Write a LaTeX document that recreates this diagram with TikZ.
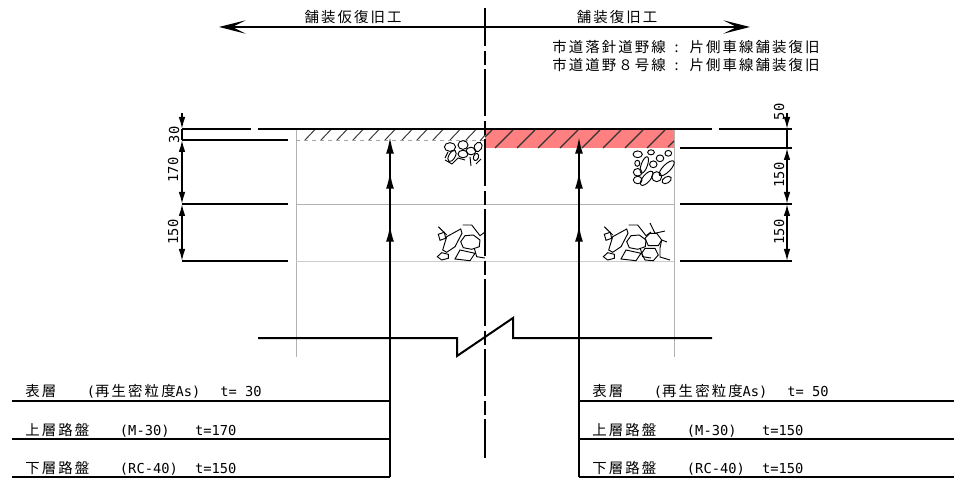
\documentclass[tikz,border=0pt]{standalone}
\usepackage{fontspec}
\usetikzlibrary{arrows.meta}
\newfontfamily\jpfont[LetterSpace=14.6]{Noto Sans CJK JP}
\newfontfamily\latfont{DejaVu Sans Mono}
\newcommand{\jp}{\jpfont\fontsize{10.8pt}{12pt}\selectfont}
\newcommand{\lat}{\latfont\fontsize{10.3pt}{12pt}\selectfont}
\tikzset{
  sectline/.style={line width=1.5pt},
  grayline/.style={gray!60, line width=0.7pt},
  hatchline/.style={black!80, line width=0.7pt},
  stone/.style={line width=0.7pt},
  centerline/.style={line width=1.4pt, dash pattern=on 35.25pt off 3.4pt on 10.5pt off 3.35pt, dash phase=6.75pt},
  leader/.style={line width=1.5pt, -{Latex[length=12.5pt,width=6pt]}},
  dimarrow/.style={line width=1.2pt, -{Latex[length=9pt,width=5pt]}},
  dimboth/.style={line width=1.2pt, {Latex[length=9pt,width=5pt]}-{Latex[length=9pt,width=5pt]}},
  rowtext/.style={anchor=base west, inner sep=0pt, font=\jp},
  dimtext/.style={rotate=90, inner sep=0pt, font=\lat},
}
% big stones of the lower course
\newcommand{\lowerstones}{
  \draw[stone] (442.7,250) -- (446.7,236.7) -- (460.7,229) -- (462,233.3) -- (455,246.7) -- (446.7,252.3) -- cycle;
  \draw[stone] (438.3,234.3) -- (444.3,232.3) -- (445.7,238.3) -- (440,240.3) -- cycle;
  \draw[stone] (438.3,226.7) -- (446.7,235);
  \draw[stone] (437.3,256.7) -- (441.7,252.7) -- (448.3,254.3) -- (448.3,258.3) -- (441.7,260) -- cycle;
  \draw[stone] (460.7,241.7) -- (465,235.7) -- (473.3,235) -- (480,240) -- (479.3,246.7) -- (471.7,249.3) -- (463.3,247.7) -- cycle;
  \draw[stone] (455,259) -- (460,250) -- (475,253.3) -- (470,260.7) -- cycle;
  \draw[stone] (462.7,225) -- (471.7,225) -- (480,235.7) -- (485,232);
  \draw[stone] (474.3,248.3) -- (476.7,256.7) -- (485,258);
}
\begin{document}
\begin{tikzpicture}[x=0.75pt, y=-0.75pt]
  \useasboundingbox (0,0) rectangle (954,481);

  % pavement layers
  \fill[red!50!white] (485,130) rectangle (674,148);
  \draw[grayline] (296,129) -- (296,357);
  \draw[grayline] (674,129) -- (674,357);
  \draw[grayline] (296,204.5) -- (674,204.5);
  \draw[gray!40, line width=1pt] (296,261.5) -- (674,261.5);
  \draw[gray!70, line width=0.6pt, dashed] (296,140.5) -- (485,140.5);

  % hatching
  \foreach \hx in {305,321,337,353,369,385,402,417,433,450,466}
    \draw[hatchline] (\hx,140) -- (\hx+10,129.5);
  \draw[hatchline] (480,141) -- (485,135);
  \foreach \hx in {495,517,538,560,582,603,625,647}
    \draw[black!80, line width=0.9pt] (\hx,148) -- (\hx+18,130);
  \draw[black!80, line width=0.9pt] (485,137) -- (492,130);
  \draw[black!80, line width=0.9pt] (668,147) -- (674,141);

  % stones
  \foreach \sx/\sy/\ra/\rb/\ang in {450/147/4.5/3.5/0, 463/145/4/3.5/0, 471/151/4/3/0, 463/154/4/3/0, 452/156/5/2.5/60, 478/147/4/3/60, 476/157/3/2/70}
    \draw[stone, rotate around={\ang:(\sx,\sy)}] (\sx,\sy) ellipse ({1.25*\ra} and {1.25*\rb});
  \draw[stone] (445,160) -- (452,164) -- (458,158) -- (465,160);
  \draw[stone] (448,152) -- (445,158);
  \draw[stone] (470,157) -- (471,166);
  \draw[stone] (481,159) -- (476,164);
  \foreach \sx/\sy/\ra/\rb/\ang in {637.7/154.3/3.7/2.7/0, 651/152.3/2.7/2/0, 660/158.3/3/2.7/0, 668.3/153.3/2.7/2.3/0, 644.3/165/7/2.5/70, 637.3/163.3/2/2.4/0, 653.3/164.3/3/2.7/0, 666.7/168.3/8/3/45, 637.7/172.3/3.5/3/0, 637.7/180/3.5/3/0, 646.7/178.3/7/3/50, 656.7/176.7/4/4/0, 666.7/180/4/2.5/30}
    \draw[stone, rotate around={\ang:(\sx,\sy)}] (\sx,\sy) ellipse ({1.25*\ra} and {1.25*\rb});
  \begin{scope}
    \clip (430,215) rectangle (485,270);
    \lowerstones
  \end{scope}
  \begin{scope}[xshift=124.5pt]
    \lowerstones
  \end{scope}
  \draw[stone] (641.7,253.3) -- (645,248.3) -- (655,248.3) -- (658.3,255) -- (653.3,260.7) -- (645,260) -- cycle;
  \draw[stone] (645,238.3) -- (650,233.3) -- (656.7,233.3) -- (661.7,240) -- (658.3,245.7) -- (648.3,245.7) -- cycle;
  \draw[stone] (650,223) -- (655,233.3) -- (665,231);
  \draw[stone] (661.7,240) -- (660,248) -- (660,257) -- (670,260);
  \draw[stone] (661.7,240) -- (667,242);

  % section lines
  \coordinate (topL) at (182,129);
  \coordinate (breakL) at (251,129);
  \coordinate (breakLb) at (258,129);
  \coordinate (breakR) at (712,129);
  \coordinate (breakRb) at (719,129);
  \coordinate (topR) at (792,129);
  \draw[sectline] (topL) -- (breakL);
  \draw[sectline] (breakLb) -- (breakR);
  \draw[sectline] (breakRb) -- (topR);
  \draw[sectline] (182,140) -- (288,140);
  \draw[sectline] (182,204) -- (288,204);
  \draw[sectline] (182,261) -- (288,261);
  \draw[sectline] (680,148) -- (792,148);
  \draw[sectline] (680,204) -- (792,204);
  \draw[sectline] (680,261) -- (792,261);

  % break line
  \draw[sectline, line join=miter] (258,338) -- (457,338) -- (457,356) -- (513,318) -- (513,338) -- (712,338);

  % center line
  \draw[centerline] (485,8) -- (485,458);

  % top arrow
  \coordinate (arrL) at (219,27);
  \coordinate (arrR) at (750,27);
  \draw[line width=1.3pt, {Stealth[length=20pt,width=10pt,inset=10pt]}-{Stealth[length=20pt,width=10pt,inset=10pt]}] (arrL) -- (arrR);
  \node[inner sep=0pt, font=\jp] (tempWork) at (353,17) {舗装仮復旧工};
  \node[inner sep=0pt, font=\jp] (fullWork) at (617,17) {舗装復旧工};
  \node[rowtext] (roadA) at (552,53) {市道落針道野線\hspace{2.8pt} : \hspace{2.8pt}片側車線舗装復旧};
  \node[rowtext] (roadB) at (552,70.5) {市道道野８号線\hspace{2.8pt} : \hspace{2.8pt}片側車線舗装復旧};

  % dimensions, left
  \coordinate (dimLa) at (182,113);
  \coordinate (dimLb) at (182,129);
  \coordinate (dimLc) at (182,140);
  \coordinate (dimLd) at (182,204);
  \coordinate (dimLe) at (182,261);
  \draw[dimarrow] (dimLa) -- (dimLb);
  \draw[line width=1.2pt] (dimLb) -- (dimLc);
  \draw[dimboth] (dimLc) -- (dimLd);
  \draw[dimboth] (dimLd) -- (dimLe);
  \node[dimtext] (dimL30) at (174,135) {30};
  \node[dimtext] (dimL170) at (173,170) {170};
  \node[dimtext] (dimL150) at (173,232) {150};

  % dimensions, right
  \coordinate (dimRa) at (787,113);
  \coordinate (dimRb) at (787,129);
  \coordinate (dimRc) at (787,148);
  \coordinate (dimRd) at (787,204);
  \coordinate (dimRe) at (787,261);
  \draw[dimarrow] (dimRa) -- (dimRb);
  \draw[line width=1.2pt] (dimRb) -- (dimRc);
  \draw[dimboth] (dimRc) -- (dimRd);
  \draw[dimboth] (dimRd) -- (dimRe);
  \node[dimtext] (dimR50) at (779,112) {50};
  \node[dimtext] (dimR150a) at (779,175) {150};
  \node[dimtext] (dimR150b) at (779,232) {150};

  % leaders, left
  \coordinate (leadL) at (390,477);
  \draw[leader] (leadL) -- (390,137);
  \draw[leader] (leadL) -- (390,172);
  \draw[leader] (leadL) -- (390,225);
  \draw[sectline] (12,401) -- (390,401);
  \draw[sectline] (12,439) -- (390,439);
  \draw[sectline] (12,477) -- (leadL);

  % leaders, right
  \coordinate (leadR) at (579,477);
  \draw[leader] (leadR) -- (579,137);
  \draw[leader] (leadR) -- (579,172);
  \draw[leader] (leadR) -- (579,225);
  \draw[sectline] (579,401) -- (954,401);
  \draw[sectline] (579,439) -- (954,439);
  \draw[sectline] (leadR) -- (954,477);

  % layer labels
  \node[rowtext] (surfL) at (25,396) {表層\hspace{4.5pt}{\lat~~~(}再生密粒度{\lat As)~~}\hspace{2.5pt}{\lat t= 30}};
  \node[rowtext] (baseL) at (25,435) {上層路盤\hspace{4.5pt}{\lat~~~(M-30)~~~}\hspace{0.5pt}{\lat t=170}};
  \node[rowtext] (subL) at (25,473) {下層路盤\hspace{4.5pt}{\lat~~~(RC-40)~~}\hspace{0.5pt}{\lat t=150}};
  \node[rowtext] (surfR) at (592,396) {表層\hspace{4.5pt}{\lat~~~(}再生密粒度{\lat As)~~}\hspace{2.5pt}{\lat t= 50}};
  \node[rowtext] (baseR) at (592,435) {上層路盤\hspace{4.5pt}{\lat~~~(M-30)~~~}\hspace{0.5pt}{\lat t=150}};
  \node[rowtext] (subR) at (592,473) {下層路盤\hspace{4.5pt}{\lat~~~(RC-40)~~}\hspace{0.5pt}{\lat t=150}};
\end{tikzpicture}
\end{document}
